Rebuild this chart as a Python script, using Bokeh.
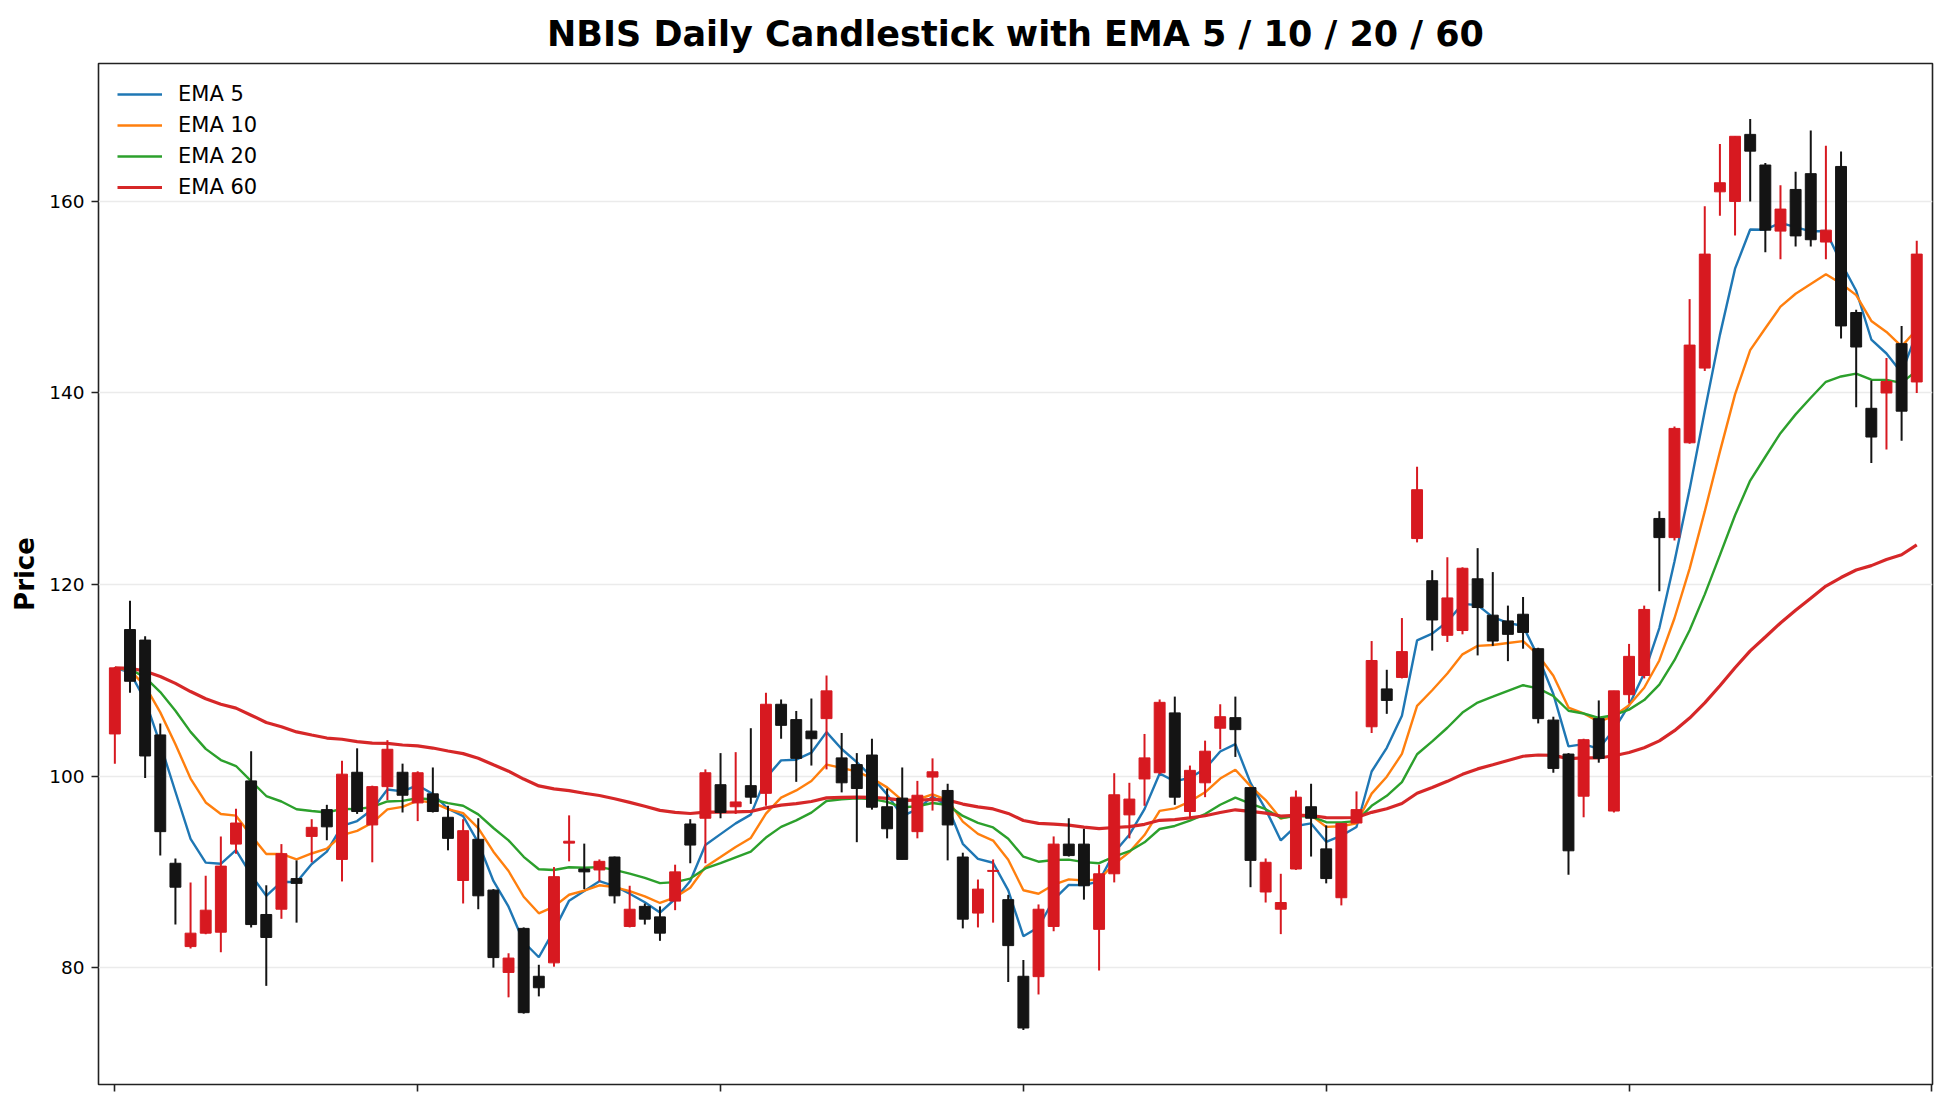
import numpy as np
import pandas as pd
from bokeh.plotting import figure
from bokeh.models import ColumnDataSource, FixedTicker, Range1d
from bokeh.embed import file_html
from bokeh.resources import INLINE

# ---- data ----
opens = [104.4, 115.3, 114.2, 104.3, 90.9, 82.2, 83.6, 83.7, 92.9, 99.5,
         85.55, 86.1, 89.3, 93.7, 96.5, 91.3, 100.4, 94.9, 98.9, 100.4,
         97.2, 98.15, 95.7, 89.1, 93.4, 88.1, 79.5, 84.1, 79.1, 80.5,
         93.0, 90.3, 90.2, 91.55, 84.3, 86.4, 85.3, 86.95, 95.0, 95.6,
         99.1, 96.8, 99.0, 98.2, 107.5, 105.9, 104.7, 106.0, 101.9, 101.2,
         102.2, 96.8, 97.7, 94.2, 99.9, 98.5, 91.55, 85.7, 90.05, 87.1,
         79.1, 79.06, 84.3, 92.9, 92.9, 84.0, 89.8, 95.95, 99.7, 100.35,
         106.6, 96.3, 99.3, 105.0, 106.1, 98.8, 87.9, 86.1, 90.3, 96.8,
         92.4, 87.3, 95.1, 105.15, 109.1, 110.3, 124.8, 120.4, 114.7, 115.2,
         120.6, 116.8, 116.2, 116.9, 113.3, 105.85, 102.3, 97.9, 106.0, 96.35,
         108.5, 110.5, 126.9, 124.9, 134.8, 142.6, 161.0, 160.0, 167.0, 163.8,
         156.9, 161.25, 162.9, 155.76, 163.65, 148.4, 138.4, 140.0, 145.15, 141.15]
highs = [111.4, 118.3, 114.6, 105.5, 91.4, 88.9, 89.6, 93.7, 96.6, 102.6,
         88.6, 92.9, 91.2, 95.5, 97.0, 101.6, 102.9, 99.0, 103.75, 101.3,
         100.5, 100.9, 96.9, 95.5, 95.6, 88.2, 81.5, 84.2, 80.3, 90.5,
         95.9, 92.95, 91.3, 91.6, 88.55, 86.7, 86.4, 90.75, 95.5, 100.7,
         102.4, 102.5, 105.0, 108.7, 108.0, 106.8, 108.1, 110.5, 104.5, 102.4,
         103.9, 98.7, 100.9, 99.5, 101.85, 99.2, 92.0, 89.2, 91.3, 87.6,
         80.8, 86.6, 93.7, 95.6, 94.5, 90.75, 100.3, 99.3, 104.4, 108.0,
         108.3, 101.1, 103.7, 107.5, 108.3, 98.8, 91.4, 89.8, 98.5, 99.2,
         94.85, 95.1, 98.4, 114.1, 111.1, 116.5, 132.3, 121.5, 122.85, 121.8,
         123.8, 121.3, 117.8, 118.7, 113.4, 106.2, 102.4, 103.9, 107.9, 108.9,
         113.8, 117.8, 127.65, 136.5, 149.8, 159.5, 166.0, 166.8, 168.6, 164.0,
         161.7, 163.1, 167.4, 165.8, 165.2, 148.7, 141.3, 143.65, 147.0, 155.9]
lows = [101.3, 108.7, 99.8, 91.7, 84.5, 82.0, 83.5, 81.6, 91.9, 84.2,
        78.1, 85.1, 84.7, 91.0, 93.3, 89.0, 96.05, 91.0, 97.5, 96.2,
        95.3, 96.2, 92.25, 86.7, 86.1, 80.0, 76.9, 75.2, 77.0, 80.1,
        91.1, 88.2, 89.0, 86.7, 84.2, 84.5, 82.8, 86.0, 90.9, 90.9,
        95.6, 96.05, 97.1, 96.9, 103.9, 99.4, 101.1, 100.7, 98.3, 93.1,
        96.5, 93.5, 91.3, 93.5, 96.4, 91.2, 84.1, 84.2, 84.7, 78.5,
        73.5, 77.2, 83.8, 91.6, 87.1, 79.7, 88.9, 93.5, 96.9, 100.2,
        97.0, 95.6, 97.8, 102.8, 102.0, 88.4, 86.8, 83.5, 90.2, 91.6,
        88.8, 86.5, 95.1, 104.5, 106.5, 110.2, 124.4, 113.1, 114.0, 114.8,
        112.6, 113.6, 112.0, 113.3, 105.5, 100.35, 89.7, 95.7, 101.4, 96.2,
        107.6, 110.2, 119.3, 124.6, 134.7, 142.3, 158.5, 156.45, 160.0, 154.7,
        153.95, 155.3, 155.3, 153.95, 145.7, 138.5, 132.7, 134.1, 135.0, 140.0]
closes = [111.3, 109.9, 102.1, 94.2, 88.4, 83.6, 86.0, 90.6, 95.1, 84.5,
          83.15, 91.9, 88.8, 94.65, 94.7, 100.2, 96.3, 98.9, 102.8, 98.0,
          100.35, 96.3, 93.5, 94.3, 87.5, 81.05, 81.0, 75.3, 77.9, 89.5,
          93.2, 90.0, 91.1, 87.5, 86.1, 85.06, 83.6, 90.0, 92.8, 100.35,
          96.2, 97.3, 97.8, 107.5, 105.3, 101.85, 103.9, 108.9, 99.3, 98.7,
          96.75, 94.5, 91.3, 98.0, 100.45, 94.9, 85.06, 88.2, 90.15, 82.3,
          73.7, 86.1, 92.9, 91.7, 88.55, 89.8, 98.05, 97.6, 101.9, 107.7,
          97.8, 100.6, 102.6, 106.2, 104.85, 91.2, 91.0, 86.8, 97.8, 95.6,
          89.3, 95.06, 96.5, 112.07, 107.9, 113.0, 129.9, 116.3, 118.6, 121.7,
          117.6, 114.1, 114.8, 115.0, 106.0, 100.8, 92.2, 103.8, 101.85, 108.9,
          112.5, 117.4, 124.9, 136.3, 145.0, 154.5, 161.95, 166.8, 165.25, 157.0,
          159.2, 156.4, 156.0, 157.0, 147.0, 144.8, 135.4, 141.2, 138.1, 154.5]

ema_spans = [5, 10, 20, 60]
ema_labels = ["EMA 5", "EMA 10", "EMA 20", "EMA 60"]
ema_colors = ["#1f77b4", "#ff7f0e", "#2ca02c", "#d62728"]
ema_widths = [2.4, 2.4, 2.4, 3.2]
y_ticks = [80, 100, 120, 140, 160]
x_ticks = [0, 20, 40, 60, 80, 100, 120]
title_text = "NBIS Daily Candlestick with EMA 5 / 10 / 20 / 60"
UP_COLOR = "#d71920"
DOWN_COLOR = "#141414"

idx = np.arange(len(closes))
df = pd.DataFrame(dict(x=idx, open=opens, high=highs, low=lows, close=closes))
df["top"] = df[["open", "close"]].max(axis=1)
df["bottom"] = df[["open", "close"]].min(axis=1)
df["color"] = np.where(df["close"] >= df["open"], UP_COLOR, DOWN_COLOR)
src = ColumnDataSource(df)

p = figure(width=1936, height=1097, output_backend="svg", toolbar_location=None,
           x_range=Range1d(-1.08, 120.04), y_range=Range1d(67.8, 174.4),
           min_border_left=98, min_border_right=4, min_border_top=63, min_border_bottom=13,
           title=title_text)
p.background_fill_color = "white"
p.border_fill_color = "white"

p.title.text_font = "DejaVu Sans"
p.title.text_font_size = "35px"
p.title.text_font_style = "bold"
p.title.text_color = "#000000"
p.title.align = "center"
p.title.standoff = 19

# EMA lines
close_s = pd.Series(closes)
for span, lab, col, lw in zip(ema_spans, ema_labels, ema_colors, ema_widths):
    ema = close_s.ewm(span=span, adjust=False).mean()
    p.line(idx, ema.values, line_color=col, line_width=lw, legend_label=lab)

# candles
p.segment(x0="x", y0="high", x1="x", y1="low", line_color="color", line_width=2, source=src)
p.vbar(x="x", width=0.72, top="top", bottom="bottom", fill_color="color",
       line_color="color", line_width=1, source=src)

# axes
p.outline_line_color = "#222222"
p.outline_line_width = 1.6
p.outline_line_alpha = 1

p.xaxis.ticker = FixedTicker(ticks=x_ticks)
p.yaxis.ticker = FixedTicker(ticks=y_ticks)
for ax in (p.xaxis[0], p.yaxis[0]):
    ax.axis_line_color = None
    ax.major_tick_out = 7
    ax.major_tick_in = 0
    ax.major_tick_line_color = "#222222"
    ax.major_tick_line_width = 1.6
    ax.minor_tick_line_color = None
p.xaxis.major_label_text_font_size = "1px"
p.xaxis.major_label_text_alpha = 0
p.xaxis.major_label_standoff = 0
p.yaxis.major_label_text_font = "DejaVu Sans"
p.yaxis.major_label_text_font_size = "18.5px"
p.yaxis.major_label_text_color = "#000000"
p.yaxis.major_label_standoff = 7
p.yaxis.axis_label = "Price"
p.yaxis.axis_label_text_font = "DejaVu Sans"
p.yaxis.axis_label_text_font_size = "26px"
p.yaxis.axis_label_text_font_style = "bold"
p.yaxis.axis_label_text_color = "#000000"
p.yaxis.axis_label_standoff = 6

p.xgrid.grid_line_color = None
p.ygrid.grid_line_color = "#ebebeb"
p.ygrid.grid_line_width = 1.5

# legend
lg = p.legend[0]
lg.location = "top_left"
lg.border_line_color = None
lg.background_fill_alpha = 0
lg.label_text_font = "DejaVu Sans"
lg.label_text_font_size = "21px"
lg.label_text_color = "#000000"
lg.glyph_width = 45
lg.glyph_height = 18
lg.label_height = 18
lg.label_standoff = 16
lg.spacing = 7
lg.padding = 0
lg.margin = 19

open("out.html", "w").write(file_html(p, INLINE))
